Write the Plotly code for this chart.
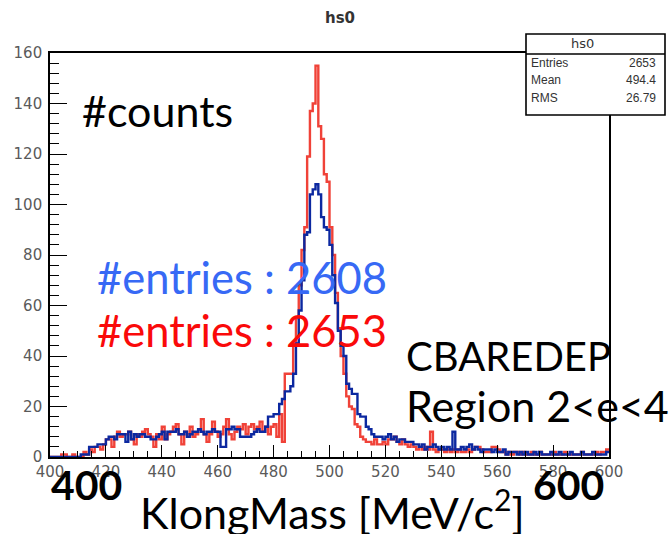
import numpy as np
import plotly.graph_objects as go

# ---------------- data ----------------
x_min, x_max, n_bins = 400, 600, 200

red_counts = [
    # 400-479
    0, 0, 0, 0, 1, 1, 0, 0, 1, 0,
    0, 0, 2, 1, 3, 2, 4, 4, 3, 5,
    7, 7, 4, 8, 10, 8, 9, 9, 10, 7,
    5, 9, 8, 10, 11, 9, 8, 4, 9, 7,
    12, 7, 9, 10, 12, 13, 9, 5, 10, 9,
    12, 8, 9, 11, 15, 9, 6, 9, 14, 10,
    8, 9, 12, 15, 9, 7, 10, 12, 11, 13,
    9, 12, 13, 11, 12, 14, 10, 12, 9, 12,
    # 480-517
    13, 8, 17, 6, 33, 33, 33, 45,
    55, 68, 82, 91, 119, 137, 140, 155, 131, 126,
    112, 109, 91, 80, 65, 51, 40, 33, 24, 20,
    19, 13, 12, 8, 7, 6, 6, 5, 7, 5,
    # 518-599
    5, 6, 5, 7, 7, 8, 6, 5, 7, 5,
    4, 5, 4, 3, 4, 3, 4, 3, 10, 3,
    2, 3, 3, 2, 3, 2, 3, 2, 3, 2,
    2, 3, 2, 3, 4, 4, 3, 2, 2, 2,
    4, 4, 3, 2, 2, 1, 2, 1, 2, 2,
    1, 2, 1, 1, 2, 1, 1, 2, 1, 1,
    1, 1, 2, 1, 1, 1, 2, 1, 1, 1,
    1, 1, 2, 1, 1, 1, 1, 2, 1, 2, 2, 3,
]

blue_counts = [
    # 400-479
    0, 0, 0, 0, 0, 0, 0, 0, 0, 0,
    0, 1, 1, 1, 4, 4, 4, 5, 5, 5,
    7, 8, 8, 7, 9, 9, 9, 6, 10, 7,
    9, 8, 9, 9, 8, 8, 7, 7, 8, 9,
    10, 7, 10, 10, 10, 11, 9, 9, 10, 8,
    9, 10, 10, 11, 10, 9, 10, 10, 11, 10,
    10, 4, 4, 11, 11, 12, 11, 11, 8, 8,
    8, 8, 9, 10, 11, 10, 10, 12, 16, 16,
    # 480-517
    17, 17, 21, 23, 26, 26, 28, 33,
    45, 58, 70, 88, 89, 104, 106, 108, 104, 95,
    91, 90, 84, 72, 61, 50, 44, 40, 29, 27,
    25, 25, 17, 16, 16, 12, 11, 9, 8, 8,
    # 518-599
    8, 7, 8, 9, 7, 8, 6, 7, 7, 6,
    6, 6, 5, 5, 4, 5, 3, 4, 4, 5,
    4, 3, 4, 3, 4, 3, 10, 3, 3, 4,
    3, 4, 5, 3, 4, 3, 2, 3, 3, 3,
    2, 3, 2, 2, 3, 1, 2, 2, 2, 1,
    2, 1, 2, 1, 1, 2, 1, 2, 1, 1,
    1, 2, 1, 1, 2, 1, 1, 1, 2, 1,
    1, 1, 2, 1, 1, 1, 2, 1, 1, 1, 1, 2,
]

y_min, y_max = 0, 160
x_tick_vals = list(range(400, 601, 20))
y_tick_vals = list(range(0, 161, 20))

title_text = "hs0"
stats_title = "hs0"
stats_labels = ["Entries", "Mean", "RMS"]
stats_values = ["2653", "494.4", "26.79"]

counts_label = "#counts"
blue_label = "#entries : 2608"
red_label = "#entries : 2653"
region_lines = ["CBAREDEP", "Region 2<e<4"]
edge_labels = ["400", "600"]
x_title = "KlongMass [MeV/c<sup>2</sup>]"

# ---------------- layout helpers ----------------
W, H = 672, 534
PL, PR, PT, PB = 50, 609, 53, 457  # plot frame in pixels


def px(x):
    return x / W


def py(y):
    return 1 - y / H


edges = np.linspace(x_min, x_max, n_bins + 1)


def step_xy(counts):
    return list(edges), list(counts) + [counts[-1]]


fig = go.Figure()
rx, ry = step_xy(red_counts)
bx, by = step_xy(blue_counts)
fig.add_trace(go.Scatter(x=rx, y=ry, mode="lines", line_shape="hv",
                         line=dict(color="rgb(240,66,56)", width=2.4),
                         showlegend=False, hoverinfo="skip"))
fig.add_trace(go.Scatter(x=bx, y=by, mode="lines", line_shape="hv",
                         line=dict(color="rgb(12,40,160)", width=2.4),
                         showlegend=False, hoverinfo="skip"))

tick_font = dict(family="DejaVu Sans, Arial", size=15, color="#5a5a5a")

fig.update_layout(
    width=W, height=H,
    margin=dict(l=0, r=0, t=0, b=0),
    paper_bgcolor="white", plot_bgcolor="white",
    showlegend=False,
    xaxis=dict(
        domain=[px(PL), px(PR)], range=[x_min, x_max],
        tickmode="array", tickvals=x_tick_vals,
        ticks="inside", ticklen=12, tickwidth=1.3, tickcolor="black",
        minor=dict(dtick=5, ticks="inside", ticklen=6, tickwidth=1.1, tickcolor="black"),
        showline=True, linecolor="black", linewidth=1.6, mirror=True,
        showgrid=False, zeroline=False, tickfont=tick_font,
        ticklabelstandoff=0, automargin=False,
    ),
    yaxis=dict(
        domain=[py(PB), py(PT)], range=[y_min, y_max],
        tickmode="array", tickvals=y_tick_vals,
        ticks="inside", ticklen=17, tickwidth=1.3, tickcolor="black",
        minor=dict(dtick=4, ticks="inside", ticklen=9, tickwidth=1.1, tickcolor="black"),
        showline=True, linecolor="black", linewidth=1.6, mirror=True,
        showgrid=False, zeroline=False, tickfont=tick_font,
        ticklabelstandoff=3, automargin=False,
    ),
)

# stats box
bx0, bx1, by0, by1, bymid = 526, 665, 34, 115, 54
fig.add_shape(type="rect", xref="paper", yref="paper",
              x0=px(bx0), x1=px(bx1), y0=py(by1), y1=py(by0),
              line=dict(color="black", width=1.6), fillcolor="white", layer="above")
fig.add_shape(type="line", xref="paper", yref="paper",
              x0=px(bx0), x1=px(bx1), y0=py(bymid), y1=py(bymid),
              line=dict(color="black", width=1.6), layer="above")

stat_font = dict(family="Liberation Sans, Arial", size=12, color="#333")
annotations = [
    dict(text=f"<b>{title_text}</b>", x=px(340), y=py(18),
         font=dict(family="DejaVu Sans, Arial", size=15, color="#333")),
    dict(text=stats_title, x=px((bx0 + bx1) / 2), y=py(44),
         font=dict(family="DejaVu Sans, Arial", size=13, color="#333")),
]
for i, (lab, val) in enumerate(zip(stats_labels, stats_values)):
    yy = py(63 + i * 17.5)
    annotations.append(dict(text=lab, x=px(529), y=yy, xanchor="left", font=stat_font))
    annotations.append(dict(text=val, x=px(658), y=yy, xanchor="right", font=stat_font))

big = "Lato, Open Sans, sans-serif"
annotations += [
    dict(text=counts_label, x=px(80), y=py(110), xanchor="left",
         font=dict(family=big, size=43, color="black")),
    dict(text=blue_label, x=px(95), y=py(277), xanchor="left",
         font=dict(family=big, size=43.5, color="rgb(55,105,245)")),
    dict(text=red_label, x=px(95), y=py(330), xanchor="left",
         font=dict(family=big, size=43.5, color="rgb(250,10,10)")),
    dict(text=region_lines[0], x=px(404), y=py(356), xanchor="left",
         font=dict(family=big, size=40, color="black")),
    dict(text=region_lines[1], x=px(404), y=py(405), xanchor="left",
         font=dict(family=big, size=43, color="black")),
    dict(text=f"<b>{edge_labels[0]}</b>", x=px(49), y=py(484), xanchor="left",
         font=dict(family=big, size=41, color="black")),
    dict(text=f"<b>{edge_labels[1]}</b>", x=px(531), y=py(484), xanchor="left",
         font=dict(family=big, size=41, color="black")),
    dict(text=x_title, x=px(138), y=py(509), xanchor="left",
         font=dict(family=big, size=43, color="black")),
]
for a in annotations:
    a.setdefault("xref", "paper")
    a.setdefault("yref", "paper")
    a.setdefault("showarrow", False)
    a.setdefault("yanchor", "middle")
fig.update_layout(annotations=annotations)

fig.write_html("out.html",
               post_script="document.body.style.margin='0px';document.body.style.overflow='hidden';")
